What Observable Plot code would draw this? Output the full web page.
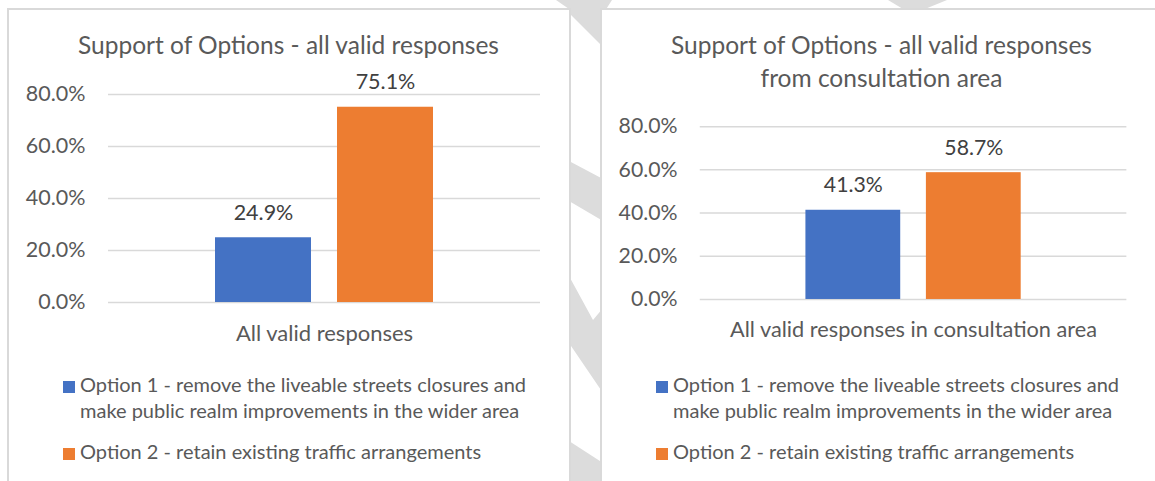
<!DOCTYPE html>
<html>
<head>
<meta charset="utf-8">
<script src="https://cdn.jsdelivr.net/npm/d3@7"></script>
<script src="https://cdn.jsdelivr.net/npm/@observablehq/plot@0.6"></script>
<style>
  html, body { margin: 0; padding: 0; background: #fff; }
  #page { position: relative; width: 1155px; height: 481px; overflow: hidden;
          font-family: Lato, "Open Sans", sans-serif; color: #595959; }
  .wm { position: absolute; left: 0; top: 0; width: 1155px; height: 481px; background: #dcdcdc; }
  .panel { position: absolute; top: 8px; height: 520px; box-sizing: border-box;
           border: 2px solid #d9d9d9; background: #fff; }
  .title { position: absolute; top: 28px; width: 460px; font-size: 24.5px; line-height: 33px; text-align: center; }
  .chart { position: absolute; top: 60px; }
  .legend { position: absolute; top: 371px; width: 480px; font-size: 20px; line-height: 26px; }
  .item { display: flex; align-items: flex-start; margin-bottom: 15px; }
  .sw { width: 12px; height: 12px; margin-top: 10px; margin-right: 5px; flex: none; }
</style>
</head>
<body>
<div id="page">
  <div class="wm" style="clip-path: polygon(556px 0, 612px 0, 603px 14px, 603px 47px, 569px 13px, 569px 9px);"></div>
  <div class="wm" style="clip-path: polygon(569px 161px, 603px 179px, 603px 221px, 569px 201px);"></div>
  <div class="wm" style="clip-path: polygon(569px 276px, 593px 320px, 603px 308px, 603px 393px, 569px 343px);"></div>
  <div class="wm" style="clip-path: polygon(569px 441px, 603px 463px, 603px 481px, 569px 481px);"></div>
  <div class="wm" style="clip-path: polygon(888px 0, 947px 0, 925px 9px, 903px 9px);"></div>
  <div class="panel" style="left: 7px; width: 564px;"></div>
  <div class="panel" style="left: 600px; width: 600px;"></div>
</div>
<script>
// ---- data ----
const series = [
  "Option 1 - remove the liveable streets closures and make public realm improvements in the wider area",
  "Option 2 - retain existing traffic arrangements"
];
const seriesColors = ["#4472C4", "#ED7D31"];
const titles = [
  "Support of Options - all valid responses",
  "Support of Options - all valid responses from consultation area"
];
const categories = ["All valid responses", "All valid responses in consultation area"];
const valuesAllResponses = [24.9, 75.1];
const valuesConsultationArea = [41.3, 58.7];
const yTicks = [0, 20, 40, 60, 80];

// ---- layout ----
const panels = [
  { left: 8,   title: titles[0], category: categories[0], values: valuesAllResponses,     marginTop: 34 },
  { left: 601, title: titles[1], category: categories[1], values: valuesConsultationArea, marginTop: 67 }
];

const page = document.getElementById("page");

function makeChart(p) {
  const data = series.map((s, i) => ({ series: s, value: p.values[i] }));
  return Plot.plot({
    width: 561,
    height: 290,
    marginLeft: 100,
    marginRight: 29,
    marginTop: p.marginTop,
    marginBottom: 48,
    style: { fontFamily: "Lato, sans-serif", fontSize: "21.5px", color: "#595959",
             background: "transparent", overflow: "visible" },
    x: { domain: series, range: [207, 426], paddingInner: 0.21, paddingOuter: 0, axis: null },
    y: { domain: [0, 80], axis: null },
    color: { domain: series, range: seriesColors },
    marks: [
      Plot.ruleY(yTicks, { stroke: "#d9d9d9", strokeWidth: 1.5 }),
      Plot.axisY(yTicks, { tickSize: 0, tickPadding: 23, tickFormat: d => d.toFixed(1) + "%",
                           fontSize: 21.5, label: null }),
      Plot.barY(data, { x: "series", y: "value", fill: "series" }),
      Plot.text(data, { x: "series", y: "value", text: d => d.value.toFixed(1) + "%",
                        dy: -18, lineAnchor: "bottom", fill: "#404040", fontSize: 21.5 }),
      Plot.text([p.category], { text: d => d, frameAnchor: "bottom", dy: 38, lineAnchor: "bottom",
                                fontSize: 22, fill: "#595959" })
    ]
  });
}

panels.forEach(p => {
  const t = document.createElement("div");
  t.className = "title";
  t.style.left = (p.left + (561 - 460) / 2) + "px";
  t.textContent = p.title;
  page.appendChild(t);

  const c = document.createElement("div");
  c.className = "chart";
  c.style.left = p.left + "px";
  c.appendChild(makeChart(p));
  page.appendChild(c);

  const lg = document.createElement("div");
  lg.className = "legend";
  lg.style.left = (p.left + 55) + "px";
  series.forEach((s, i) => {
    const it = document.createElement("div");
    it.className = "item";
    const sw = document.createElement("span");
    sw.className = "sw";
    sw.style.background = seriesColors[i];
    const tx = document.createElement("span");
    tx.style.width = "455px";
    tx.textContent = s;
    it.appendChild(sw);
    it.appendChild(tx);
    lg.appendChild(it);
  });
  page.appendChild(lg);
});
</script>
</body>
</html>
